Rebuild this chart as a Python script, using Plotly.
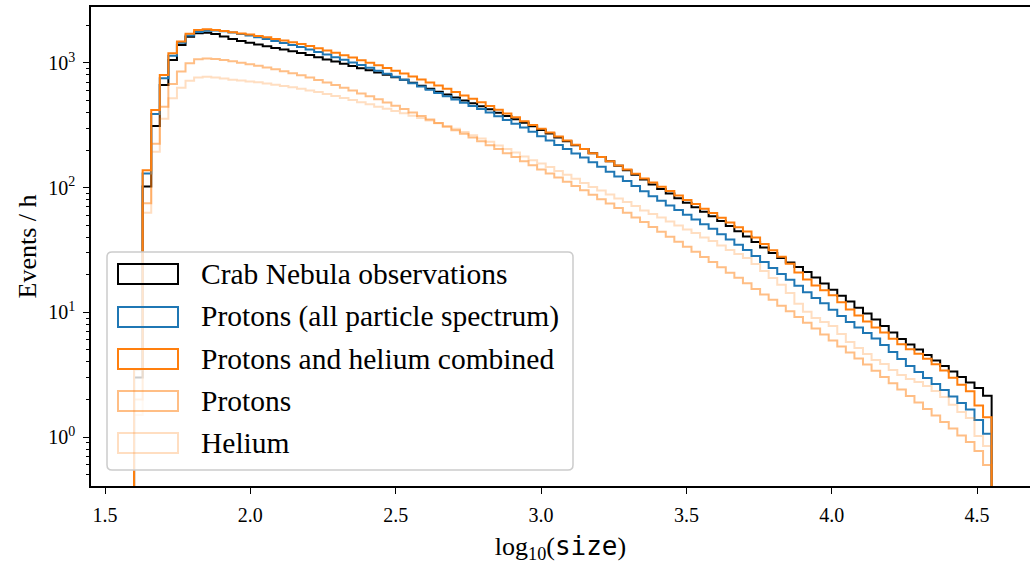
import plotly.graph_objects as go

# Histogram binning in log10(size)
bin_lo, bin_hi, n_bins = 1.6, 4.55, 100

# Events per hour in each bin
crab = [
    3.0, 102, 312, 665, 1055, 1392, 1623, 1728, 1747, 1705,
    1628, 1555, 1498, 1450, 1405, 1361, 1319, 1278, 1239, 1198,
    1155, 1111, 1067, 1024, 983, 944, 908, 874, 839, 804,
    768, 731, 694, 656, 621, 588, 557, 528, 500, 474,
    449, 424, 399, 376, 353, 331, 310, 290, 271, 252,
    235, 219, 204, 189, 176, 163, 150, 138, 127, 116,
    106, 97.4, 89.5, 82.2, 75.7, 69.6, 64.1, 58.9, 54.0, 49.2,
    44.7, 40.5, 36.6, 33.1, 29.9, 27.3, 25.1, 23.1, 21.0, 19.0,
    17.0, 15.2, 13.6, 12.2, 10.9, 9.78, 8.76, 7.77, 6.89, 6.11,
    5.52, 5.03, 4.55, 4.11, 3.71, 3.35, 3.03, 2.74, 2.47, 2.14,
]
protons_all = [
    3.5, 130, 389, 752, 1142, 1452, 1659, 1769, 1813, 1819,
    1796, 1753, 1705, 1655, 1604, 1555, 1498, 1444, 1392, 1341,
    1281, 1223, 1168, 1111, 1059, 1009, 962, 913, 866, 819,
    775, 731, 687, 647, 608, 573, 540, 509, 480, 452,
    426, 401, 374, 348, 325, 303, 280, 258, 239, 220,
    204, 188, 174, 160, 147, 134, 123, 113, 103, 93.6,
    85.3, 78.4, 72.0, 66.1, 60.5, 55.5, 50.9, 46.7, 42.3, 38.4,
    34.8, 31.6, 28.3, 25.3, 22.7, 20.3, 18.2, 16.3, 14.5, 13.0,
    11.8, 10.5, 9.34, 8.36, 7.55, 6.82, 6.17, 5.47, 4.80, 4.22,
    3.71, 3.32, 2.97, 2.66, 2.38, 2.11, 1.87, 1.66, 1.37, 1.06,
]
protons = [
    2.0, 75, 225, 445, 677, 852, 992, 1071, 1085, 1075,
    1055, 1030, 1004, 976, 948, 919, 889, 858, 827, 795,
    764, 729, 696, 664, 631, 600, 568, 539, 510, 481,
    454, 427, 401, 376, 352, 330, 308, 289, 270, 252,
    235, 219, 204, 189, 176, 163, 151, 140, 130, 120.5,
    111.5, 103, 95.1, 87.7, 80.8, 74.4, 68.5, 62.9, 57.7, 52.9,
    48.4, 44.2, 40.4, 36.8, 33.6, 30.6, 27.8, 25.3, 23.0, 20.8,
    18.9, 17.1, 15.4, 13.9, 12.6, 11.3, 10.2, 9.17, 8.24, 7.40,
    6.64, 5.95, 5.33, 4.77, 4.26, 3.81, 3.40, 3.03, 2.70, 2.40,
    2.13, 1.89, 1.68, 1.49, 1.32, 1.17, 1.03, 0.912, 0.772, 0.596,
]
helium = [
    1.5, 63, 194, 356, 520, 632, 718, 765, 775, 764,
    750, 733, 721, 711, 698, 684, 669, 653, 637, 621,
    602, 583, 563, 543, 523, 503, 484, 465, 446, 428,
    412, 394, 377, 361, 345, 328, 312, 296, 279, 263,
    248, 233, 218, 204, 191, 178, 166, 156, 146, 136,
    127, 118, 109, 101, 94.8, 88.0, 81.8, 76.6, 71.2, 65.5,
    61.4, 57.6, 53.5, 49.7, 46.1, 43.2, 39.8, 37.3, 34.3, 31.6,
    29.3, 27.3, 24.4, 21.4, 18.8, 16.6, 14.3, 11.7, 10.1, 9.00,
    8.36, 7.77, 6.70, 5.78, 5.17, 4.63, 4.15, 3.85, 3.45, 3.14,
    2.92, 2.76, 2.56, 2.34, 2.09, 1.81, 1.59, 1.42, 1.02, 0.847,
]
combined = [p + h for p, h in zip(protons, helium)]

labels = [
    "Crab Nebula observations",
    "Protons (all particle spectrum)",
    "Protons and helium combined",
    "Protons",
    "Helium",
]
colors = ["#000000", "#1f77b4", "#ff7f0e", "#ff7f0e", "#ff7f0e"]
alphas = [1.0, 1.0, 1.0, 0.5, 0.25]
series = [crab, protons_all, combined, protons, helium]

edges = [bin_lo + (bin_hi - bin_lo) * k / n_bins for k in range(n_bins + 1)]
FLOOR = 1e-3  # below the visible range: closes the step outline at both ends

fig = go.Figure()
for vals, col, a, name in zip(series, colors, alphas, labels):
    xs = [edges[0]] + edges[:-1] + [edges[-1], edges[-1]]
    ys = [FLOOR] + list(vals) + [vals[-1], FLOOR]
    fig.add_trace(go.Scatter(
        x=xs, y=ys, mode="lines", line=dict(color=col, width=2, shape="hv"),
        opacity=a, name=name, showlegend=False, hoverinfo="skip",
    ))

W, H = 1030, 574
L, R, T, B = 91, 1030, 7, 486


def px_x(p):
    return (p - L) / (R - L)


def px_y(p):
    return (B - p) / (B - T)


serif = "Liberation Serif"
fig.update_layout(
    width=W, height=H,
    margin=dict(l=L, r=W - R, t=T, b=H - B),
    paper_bgcolor="white", plot_bgcolor="white",
    font=dict(family=serif, color="black", size=20),
    showlegend=False,
    xaxis=dict(
        range=[1.45184, 4.6820], tickvals=[1.5, 2.0, 2.5, 3.0, 3.5, 4.0, 4.5],
        ticktext=["1.5", "2.0", "2.5", "3.0", "3.5", "4.0", "4.5"],
        ticks="outside", ticklen=6, tickwidth=1.3, tickcolor="black",
        ticklabelstandoff=4,
        showline=True, linecolor="black", linewidth=1.5, mirror=True,
        showgrid=False, zeroline=False, tickfont=dict(size=20, family=serif),
        title=dict(
            text="log<sub>10</sub>(<span style=\"font-family:DejaVu Sans Mono\">size</span>)",
            font=dict(size=26, family=serif), standoff=12,
        ),
    ),
    yaxis=dict(
        type="log", range=[-0.3929, 3.4483],
        tickvals=[1, 10, 100, 1000],
        ticktext=["10<sup>0</sup>", "10<sup>1</sup>", "10<sup>2</sup>", "10<sup>3</sup>"],
        ticks="outside", ticklen=6, tickwidth=1.3, tickcolor="black",
        ticklabelstandoff=4,
        minor=dict(ticks="outside", ticklen=3, tickwidth=1, tickcolor="black", dtick="D1", showgrid=False),
        showline=True, linecolor="black", linewidth=1.5, mirror=False,
        showgrid=False, zeroline=False, tickfont=dict(size=20, family=serif),
        title=dict(text="Events / h", font=dict(size=26, family=serif), standoff=4),
    ),
)

# Legend: rounded, semi-transparent box with outlined patch handles
bx0, bx1, by0, by1, rad = 107, 573, 252, 470, 5
path = (
    f"M {px_x(bx0 + rad)} {px_y(by0)} L {px_x(bx1 - rad)} {px_y(by0)} "
    f"Q {px_x(bx1)} {px_y(by0)} {px_x(bx1)} {px_y(by0 + rad)} "
    f"L {px_x(bx1)} {px_y(by1 - rad)} Q {px_x(bx1)} {px_y(by1)} {px_x(bx1 - rad)} {px_y(by1)} "
    f"L {px_x(bx0 + rad)} {px_y(by1)} Q {px_x(bx0)} {px_y(by1)} {px_x(bx0)} {px_y(by1 - rad)} "
    f"L {px_x(bx0)} {px_y(by0 + rad)} Q {px_x(bx0)} {px_y(by0)} {px_x(bx0 + rad)} {px_y(by0)} Z"
)
fig.add_shape(type="path", path=path, xref="paper", yref="paper",
              fillcolor="rgba(255,255,255,0.8)", line=dict(color="#cccccc", width=1.5), layer="above")

row_centers = [274, 317, 359, 401, 443]
for yc, col, a, name in zip(row_centers, colors, alphas, labels):
    fig.add_shape(type="rect", xref="paper", yref="paper",
                  x0=px_x(118), x1=px_x(178), y0=px_y(yc - 10), y1=px_y(yc + 10),
                  line=dict(color=col, width=2), fillcolor="rgba(0,0,0,0)", opacity=a, layer="above")
    fig.add_annotation(x=px_x(199), y=px_y(yc), xref="paper", yref="paper", text=name,
                       showarrow=False, xanchor="left", yanchor="middle",
                       font=dict(size=29.5, family=serif, color="black"))

fig.write_html("out.html")
